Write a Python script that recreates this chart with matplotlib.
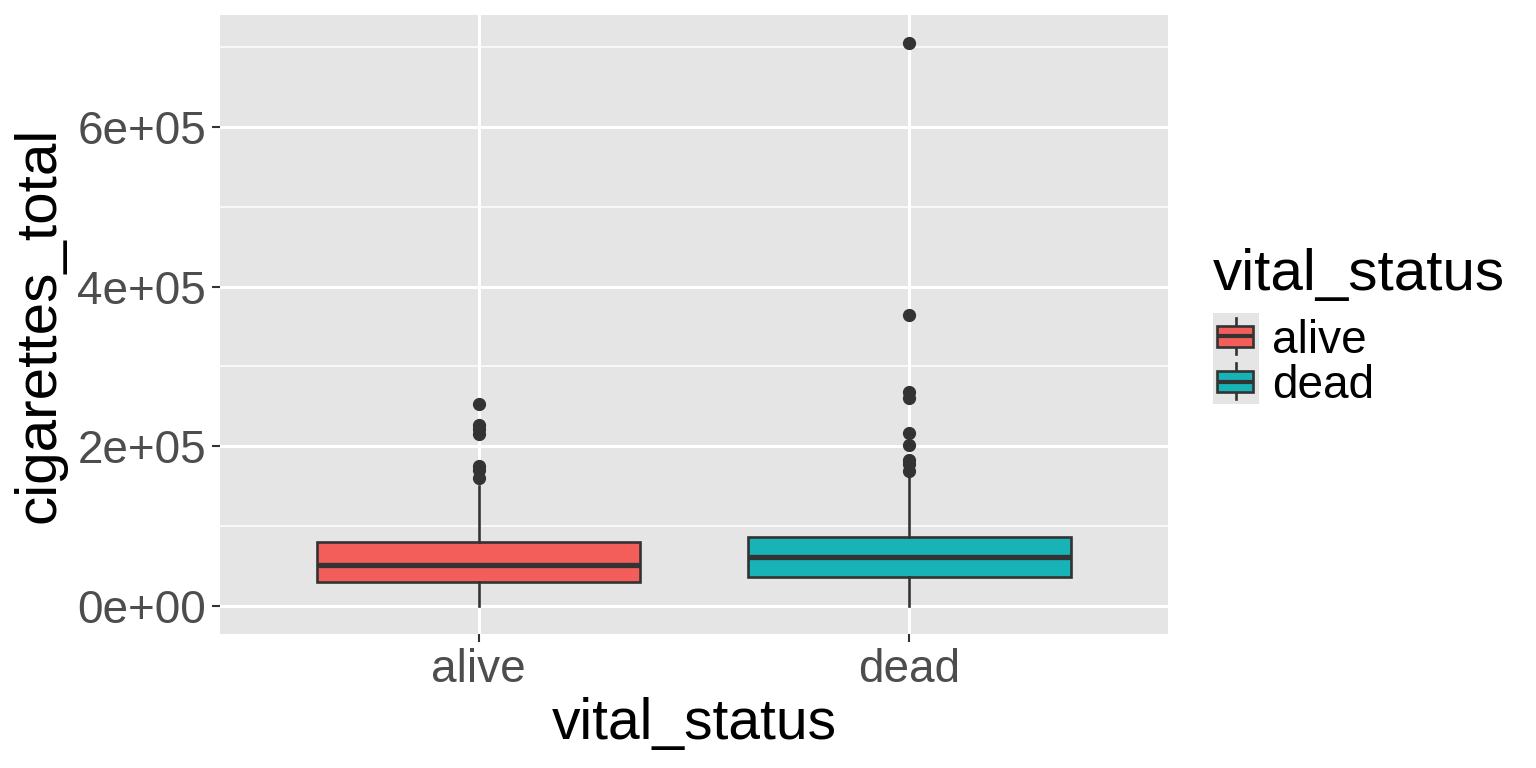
import matplotlib
matplotlib.use("Agg")
import matplotlib.pyplot as plt
from matplotlib.patches import Rectangle
from matplotlib.ticker import FixedLocator, FuncFormatter

plt.rcParams['font.family'] = ['Liberation Sans', 'DejaVu Sans']

# box summary values
categories = ["alive", "dead"]
q1 = [30500, 36000]
medians = [51000, 61500]
q3 = [80500, 86500]
whislo = [0, 0]
whishi = [150000, 162000]
fliers_alive = [252500, 227000, 222000, 215000, 175000, 170000, 160000]
fliers_dead = [705000, 364000, 268000, 260000, 216000, 201000, 183000, 178000, 169000]
fill_colors = ["#F45E5A", "#17B3B7"]

y_major = [0, 200000, 400000, 600000]
y_minor = [100000, 300000, 500000, 700000]

fig = plt.figure(figsize=(15.36, 7.68), dpi=100)
ax = fig.add_axes([220 / 1536, 1 - 634 / 768, 948 / 1536, 619 / 768])
ax.set_facecolor("#E5E5E5")
for s in ax.spines.values():
    s.set_visible(False)

# grid lines (ggplot style)
for v in y_minor:
    ax.axhline(v, color="white", lw=1.1, zorder=0)
for v in y_major:
    ax.axhline(v, color="white", lw=2.2, zorder=0)
positions = [1, 2]
for p in positions:
    ax.axvline(p, color="white", lw=2.2, zorder=0)

stats = []
for i, name in enumerate(categories):
    stats.append(dict(label=name, q1=q1[i], med=medians[i], q3=q3[i],
                      whislo=whislo[i], whishi=whishi[i],
                      fliers=[fliers_alive, fliers_dead][i]))

bp = ax.bxp(stats, positions=positions, widths=0.75, patch_artist=True,
            showcaps=False,
            boxprops=dict(edgecolor="#333333", linewidth=1.9),
            whiskerprops=dict(color="#333333", linewidth=1.9),
            medianprops=dict(color="#333333", linewidth=3.8, solid_capstyle="butt"),
            flierprops=dict(marker="o", markerfacecolor="#333333",
                            markeredgecolor="#333333", markersize=8.5))
for patch, c in zip(bp["boxes"], fill_colors):
    patch.set_facecolor(c)
    patch.set_zorder(2)

ax.set_xlim(0.4, 2.6)
ax.set_ylim(-35250, 740250)
ax.yaxis.set_major_locator(FixedLocator(y_major))
ax.yaxis.set_major_formatter(FuncFormatter(lambda v, pos: f"{v:.0e}"))
ax.set_xticks(positions)
ax.set_xticklabels(categories)
ax.tick_params(axis="both", which="major", length=6, width=1.5, color="#333333",
               labelsize=33, labelcolor="#4D4D4D", pad=4)

ax.set_xlabel("vital_status", fontsize=41, color="black", labelpad=4)
ax.set_ylabel("cigarettes_total", fontsize=42, color="black", labelpad=8)

# legend drawn by hand to mimic ggplot keys
fig.text(1213 / 1536, 1 - 290 / 768, "vital_status", fontsize=42,
         ha="left", va="baseline", color="black")
kax = fig.add_axes([1213 / 1536, 1 - 404 / 768, 46 / 1536, 91 / 768])
kax.set_facecolor("#E5E5E5")
kax.set_xlim(0, 1)
kax.set_ylim(2, 0)
kax.set_xticks([])
kax.set_yticks([])
for s in kax.spines.values():
    s.set_visible(False)
for i, (name, c) in enumerate(zip(categories, fill_colors)):
    kax.plot([0.5, 0.5], [i + 0.1, i + 0.9], color="#333333", lw=1.9, zorder=1)
    kax.add_patch(Rectangle((0.09, i + 0.28), 0.78, 0.46, facecolor=c,
                            edgecolor="#333333", lw=1.9, zorder=2))
    kax.plot([0.09, 0.87], [i + 0.51, i + 0.51], color="#333333", lw=3.0,
             solid_capstyle="butt", zorder=3)
    fig.text(1272 / 1536, 1 - (341 + 45 * i) / 768, name, fontsize=33,
             ha="left", va="center", color="black")

fig.savefig("out.png", dpi=100)
